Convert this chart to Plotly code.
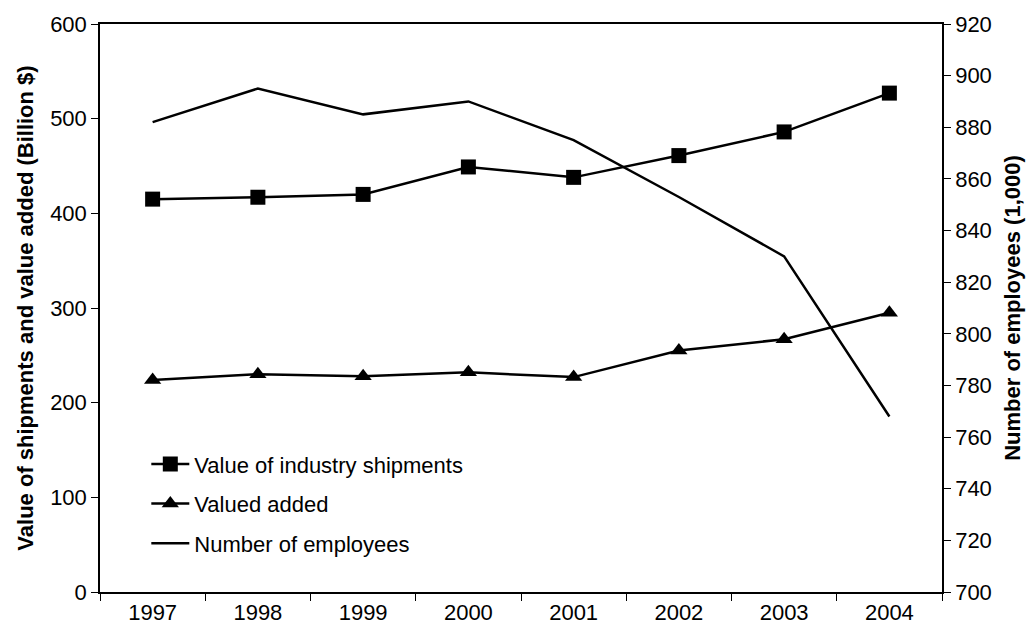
import plotly.graph_objects as go

years = ["1997", "1998", "1999", "2000", "2001", "2002", "2003", "2004"]
shipments = [415, 417, 420, 449, 438, 461, 486, 527]
value_added = [224, 230, 228, 232, 227, 255, 267, 295]
employees = [882, 895, 885, 890, 875, 853, 830, 768]

FONT = "Liberation Sans, Arial, sans-serif"
SIZE = 22

fig = go.Figure()
fig.add_trace(go.Scatter(
    x=years, y=shipments, name="Value of industry shipments",
    mode="lines+markers", legendgroup="a",
    line=dict(color="black", width=2.5),
    marker=dict(symbol="square", size=15, color="black"),
))
fig.add_trace(go.Scatter(
    x=years, y=value_added, name="Valued added",
    mode="lines+markers", legendgroup="b",
    line=dict(color="black", width=2.5),
    marker=dict(symbol="triangle-up", size=15, color="black"),
))
fig.add_trace(go.Scatter(
    x=years, y=employees, name="Number of employees",
    mode="lines", yaxis="y2", legendgroup="c",
    line=dict(color="black", width=2.5),
))

fig.update_layout(
    width=1034, height=637,
    margin=dict(l=100, r=92, t=16, b=44),
    paper_bgcolor="white", plot_bgcolor="white",
    font=dict(family=FONT, size=SIZE, color="black"),
    showlegend=True,
    legend=dict(
        x=0.055, y=0.262, xanchor="left", yanchor="top",
        bgcolor="rgba(0,0,0,0)", font=dict(size=SIZE, family=FONT),
        tracegroupgap=8, itemwidth=38,
    ),
    xaxis=dict(
        type="category", range=[-0.5, 7.5],
        showline=True, linecolor="black", linewidth=1.5, mirror=True,
        ticks="outside", tickson="boundaries", ticklen=7, tickcolor="black",
        showgrid=False, zeroline=False,
        tickfont=dict(size=SIZE, family=FONT),
    ),
    yaxis=dict(
        range=[0, 600], dtick=100,
        showline=True, linecolor="black", linewidth=1.5,
        ticks="outside", ticklen=7, tickcolor="black",
        showgrid=False, zeroline=False,
        tickfont=dict(size=SIZE, family=FONT),
        title=dict(
            text="<b>Value of shipments and value added (Billion $)</b>",
            font=dict(size=SIZE, family=FONT), standoff=10,
        ),
    ),
    yaxis2=dict(
        range=[700, 920], dtick=20, overlaying="y", side="right",
        showline=True, linecolor="black", linewidth=1.5,
        ticks="outside", ticklen=7, tickcolor="black",
        showgrid=False, zeroline=False,
        tickfont=dict(size=SIZE, family=FONT),
        title=dict(
            text="<b>Number of employees (1,000)</b>",
            font=dict(size=SIZE, family=FONT), standoff=14,
        ),
    ),
)

fig.write_html("out.html")
